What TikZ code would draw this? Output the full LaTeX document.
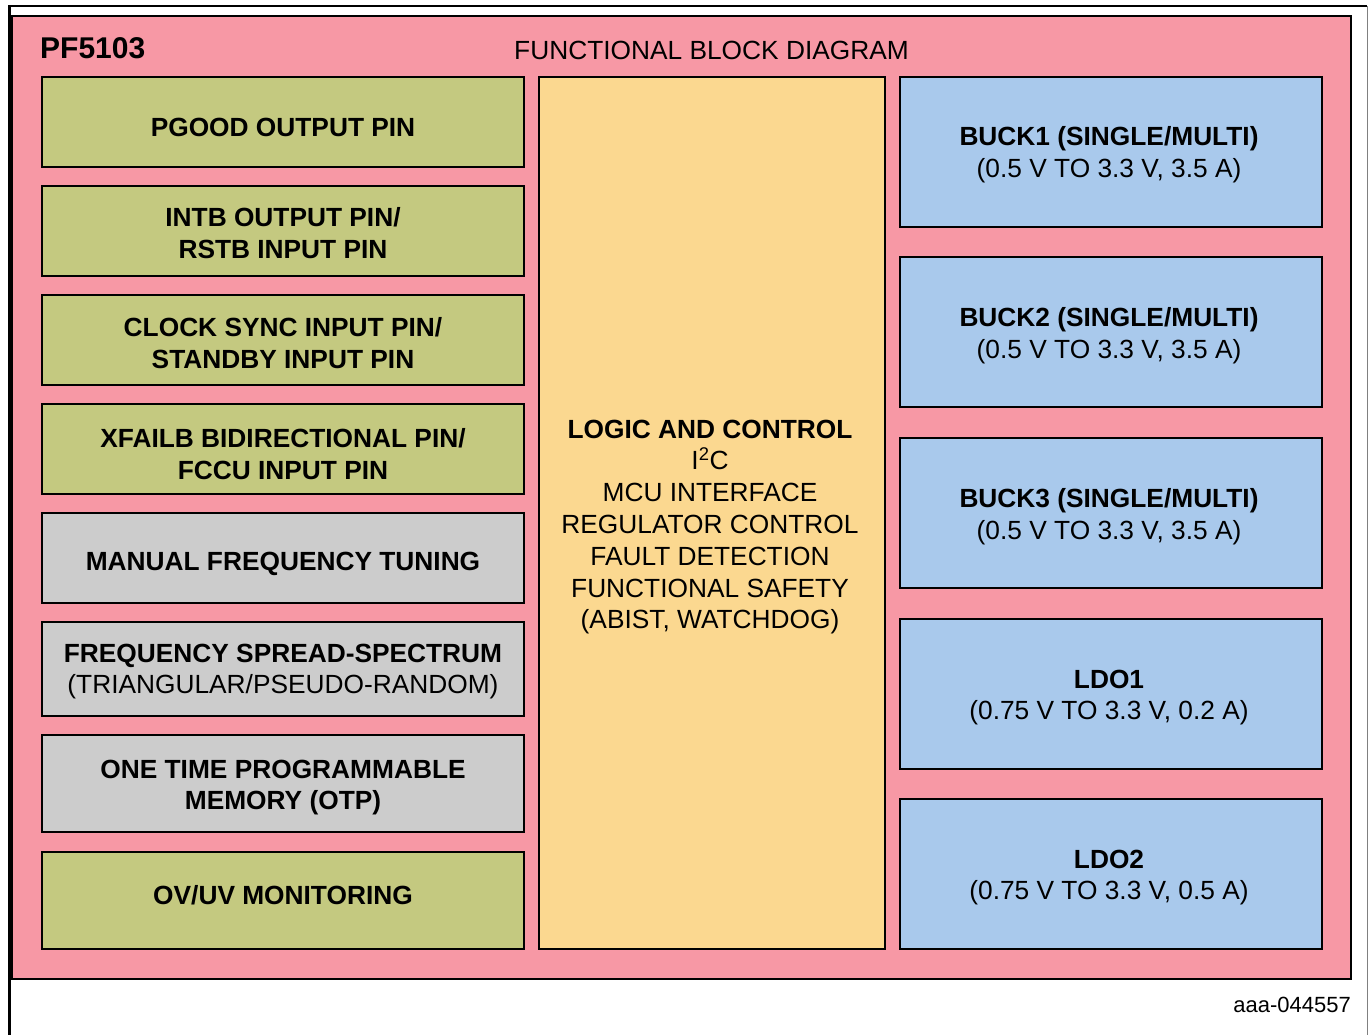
\documentclass[tikz,border=0pt]{standalone}
\usepackage{fontspec}
\setmainfont{Liberation Sans}
\definecolor{pinkbg}{RGB}{247,152,165}
\definecolor{greenbox}{RGB}{196,201,128}
\definecolor{graybox}{RGB}{204,204,204}
\definecolor{yellowbox}{RGB}{251,216,144}
\definecolor{bluebox}{RGB}{169,201,236}
\begin{document}
\begin{tikzpicture}[x=1pt,y=-1pt,
  box/.style={draw=black, line width=2.5pt, inner sep=0pt},
  lbox/.style={box, minimum width=482pt},
  rbox/.style={box, fill=bluebox, minimum width=422pt, minimum height=150pt},
  lbl/.style={inner sep=0pt, align=center, font=\fontsize{26.3}{31.8}\selectfont},
  blbl/.style={lbl, font=\fontsize{26.3}{31.8}\selectfont\bfseries}]
\useasboundingbox (0,0) rectangle (1370,1034);
\fill[white] (0,0) rectangle (1370,1034);
% outer frame
\coordinate (ftl) at (9.5,6);
\coordinate (ftr) at (1367,6);
\coordinate (fbl) at (9.5,1040);
\coordinate (fbr) at (1367,1040);
\draw[line width=2.5pt] (fbl) -- (ftl) -- (ftr);
\draw[line width=1pt, gray] (ftr) -- (fbr);
% pink panel
\node[box, fill=pinkbg, line width=2.2pt, minimum width=1339pt, minimum height=963pt] (panel) at (681.5,497.5) {};
\node[inner sep=0pt, anchor=west, font=\fontsize{30}{36}\selectfont\bfseries] (title) at (40,48) {PF5103};
\node[lbl] (subtitle) at (711.5,50) {FUNCTIONAL BLOCK DIAGRAM};
% left column
\node[lbox, fill=greenbox, minimum height=90pt] (pgood) at (283,122) {};
\node[lbox, fill=greenbox, minimum height=90pt] (intb) at (283,231) {};
\node[lbox, fill=greenbox, minimum height=90pt] (clock) at (283,340) {};
\node[lbox, fill=greenbox, minimum height=90pt] (xfail) at (283,449) {};
\node[lbox, fill=graybox, minimum height=90pt] (manual) at (283,558) {};
\node[lbox, fill=graybox, minimum height=94pt] (freq) at (283,669) {};
\node[lbox, fill=graybox, minimum height=97pt] (otp) at (283,783.5) {};
\node[lbox, fill=greenbox, minimum height=97pt] (ovuv) at (283,900.5) {};
\node[blbl] (pgoodt) at (283,127) {PGOOD OUTPUT PIN};
\node[blbl] (intbt) at (283,233) {INTB OUTPUT PIN/\\RSTB INPUT PIN};
\node[blbl] (clockt) at (283,343) {CLOCK SYNC INPUT PIN/\\STANDBY INPUT PIN};
\node[blbl] (xfailt) at (283,454) {XFAILB BIDIRECTIONAL PIN/\\FCCU INPUT PIN};
\node[blbl] (manualt) at (283,563.5) {MANUAL FREQUENCY TUNING};
\node[lbl] (freqt) at (283,671.5) {{\bfseries FREQUENCY SPREAD-SPECTRUM}\\(TRIANGULAR/PSEUDO-RANDOM)};
\node[blbl] (otpt) at (283,787.5) {ONE TIME PROGRAMMABLE\\MEMORY (OTP)};
\node[blbl] (ovuvt) at (283,895.5) {OV/UV MONITORING};
% centre column
\node[box, fill=yellowbox, minimum width=346pt, minimum height=872pt] (logic) at (712,513) {};
\node[lbl] (logict) at (710,527) {{\bfseries LOGIC AND CONTROL}\\I\textsuperscript{2}C\\MCU INTERFACE\\REGULATOR CONTROL\\FAULT DETECTION\\FUNCTIONAL SAFETY\\(ABIST, WATCHDOG)};
% right column
\node[rbox] (buck1) at (1111,152) {};
\node[rbox] (buck2) at (1111,332) {};
\node[rbox] (buck3) at (1111,513) {};
\node[rbox] (ldo1) at (1111,694) {};
\node[rbox] (ldo2) at (1111,874) {};
\node[lbl] (buck1t) at (1109,155) {{\bfseries BUCK1 (SINGLE/MULTI)}\\(0.5 V TO 3.3 V, 3.5 A)};
\node[lbl] (buck2t) at (1109,335.5) {{\bfseries BUCK2 (SINGLE/MULTI)}\\(0.5 V TO 3.3 V, 3.5 A)};
\node[lbl] (buck3t) at (1109,516.5) {{\bfseries BUCK3 (SINGLE/MULTI)}\\(0.5 V TO 3.3 V, 3.5 A)};
\node[lbl] (ldo1t) at (1109,697.5) {{\bfseries LDO1}\\(0.75 V TO 3.3 V, 0.2 A)};
\node[lbl] (ldo2t) at (1109,877.5) {{\bfseries LDO2}\\(0.75 V TO 3.3 V, 0.5 A)};
% figure code
\node[inner sep=0pt, anchor=east, font=\fontsize{22}{26}\selectfont] (code) at (1351,1005) {aaa-044557};
\end{tikzpicture}
\end{document}
